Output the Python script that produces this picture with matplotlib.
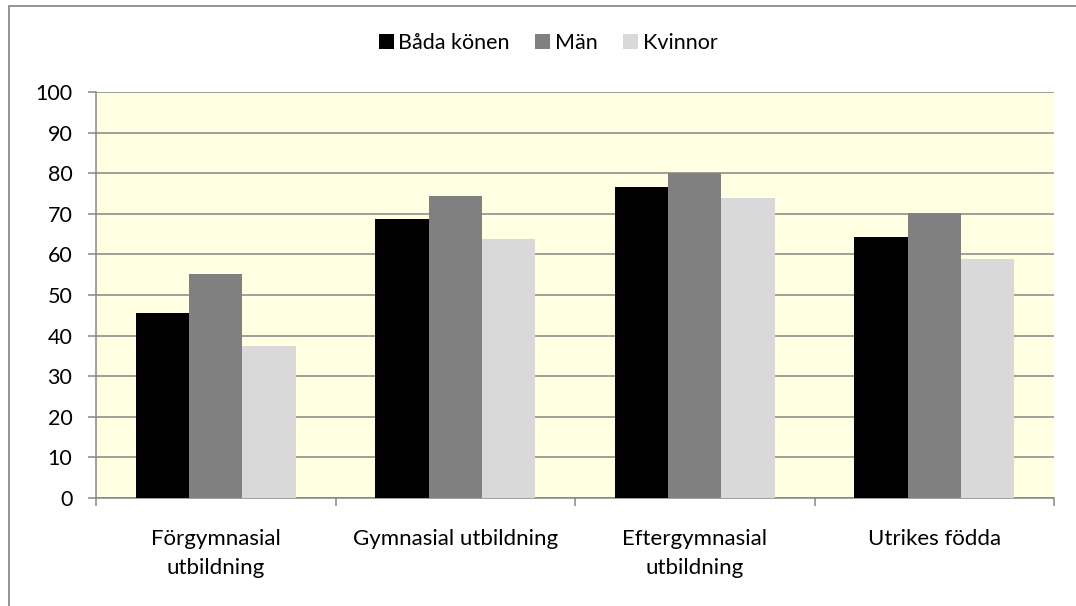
import matplotlib

matplotlib.use("Agg")

import matplotlib.pyplot as plt
from matplotlib.patches import Rectangle
import numpy as np

plt.rcParams["font.family"] = ["Lato", "DejaVu Sans"]

CATEGORIES = [
    "Förgymnasial\nutbildning",
    "Gymnasial utbildning",
    "Eftergymnasial\nutbildning",
    "Utrikes födda",
]
SERIES = ["Båda könen", "Män", "Kvinnor"]
BADA = [45.6, 68.8, 76.6, 64.3]
MAN = [55.1, 74.3, 80.1, 70.2]
KVINNOR = [37.4, 63.7, 73.8, 58.8]
YTICKS = list(range(0, 101, 10))

COLORS = ["#000000", "#808080", "#D9D9D9"]
GRID = "#868686"

fig = plt.figure(figsize=(10.76, 6.06), dpi=100)
ax = fig.add_axes([96 / 1076, 108 / 606, 958 / 1076, 406 / 606])
ax.set_facecolor("#FFFFE1")

x = np.arange(len(CATEGORIES))
w = 1 / 4.5
for i, (name, vals) in enumerate(zip(SERIES, [BADA, MAN, KVINNOR])):
    ax.bar(x + (i - 1) * w, vals, width=w, color=COLORS[i], label=name,
           linewidth=0, zorder=3)

ax.set_xlim(-0.5, len(CATEGORIES) - 0.5)
ax.set_ylim(0, 100)
ax.set_yticks(YTICKS)
ax.yaxis.grid(True, color=GRID, linewidth=1.1, zorder=1)
ax.set_axisbelow(True)

ax.set_xticks(x)
ax.set_xticklabels(CATEGORIES, fontsize=16, linespacing=1.6)
ax.set_xticks(np.arange(len(CATEGORIES) + 1) - 0.5, minor=True)
ax.tick_params(axis="x", which="major", length=0, pad=22)
ax.tick_params(axis="x", which="minor", length=6, width=1.1, color=GRID)
ax.tick_params(axis="y", length=6, width=1.1, color=GRID, pad=11, labelsize=15.5)

for side in ("top", "right"):
    ax.spines[side].set_visible(False)
for side in ("left", "bottom"):
    ax.spines[side].set_color(GRID)
    ax.spines[side].set_linewidth(1.1)

leg = fig.legend(loc="center", bbox_to_anchor=(548 / 1076, 1 - 43 / 606), ncol=3,
                 frameon=False, fontsize=15.5, handlelength=0.7, handleheight=0.65,
                 handletextpad=0.2, columnspacing=1.2)

fig.patches.append(Rectangle((8.5 / 1076, -0.1), 2, (606 - 6) / 606 + 0.1,
                             transform=fig.transFigure, fill=False,
                             edgecolor="#8C8C8C", linewidth=1.3))

fig.savefig("out.png", dpi=100)
